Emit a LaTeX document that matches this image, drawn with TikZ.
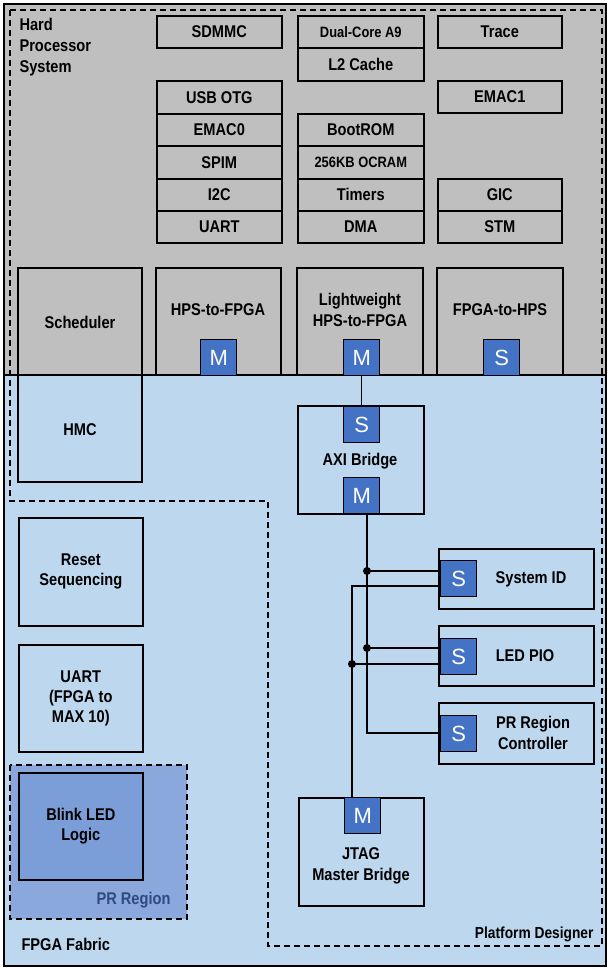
\documentclass[tikz,border=0pt]{standalone}
\usepackage{fontspec}
\setmainfont{Liberation Sans}[FakeStretch=0.86]
\newfontfamily\portfont{Liberation Sans}
\definecolor{hpsgray}{HTML}{BFBFBF}
\definecolor{fpgablue}{HTML}{BDD7EE}
\definecolor{portblue}{HTML}{4472C4}
\definecolor{prblue}{HTML}{8AA8DC}
\definecolor{blinkblue}{HTML}{7B9ED8}
\definecolor{prtext}{HTML}{2F4A80}
\begin{document}
\begin{tikzpicture}[x=1pt,y=-1pt,
  box/.style={draw=black,line width=1.6pt,anchor=north west,inner sep=0pt,align=center,font=\fontsize{17}{20}\selectfont\bfseries},
  port/.style={draw=black,line width=1.4pt,fill=portblue,text=white,minimum width=36pt,minimum height=36pt,inner sep=0pt,anchor=north west,font=\portfont\fontsize{22}{22}\selectfont},
  lbl/.style={font=\fontsize{17}{21}\selectfont\bfseries,align=left},
  wire/.style={line width=1.5pt},
  dot/.style={circle,fill=black,inner sep=0pt,minimum size=8pt}]
\useasboundingbox (0,0) rectangle (611,969);
\fill[hpsgray] (4,4) rectangle (606,375);
\fill[fpgablue] (4,375) rectangle (606,966);
\draw[line width=1.6pt] (4,375) -- (606,375);
% PR region
\fill[prblue] (10,765) rectangle (187,919);
\draw[dashed,line width=1.4pt,dash pattern=on 6pt off 4pt] (10,765) rectangle (187,919);
% main dashed polygon
\draw[line width=1.4pt,dash pattern=on 6pt off 4pt] (10,10) -- (602,10) -- (602,946) -- (268,946) -- (268,501) -- (10,501) -- cycle;
% HPS label
\node[lbl,anchor=north west] (hpslbl) at (16,15) {Hard\\Processor\\System};
% column 1
\newcommand\bx[6]{\node[box,minimum width=#3pt,minimum height=#4pt] (#5) at (#1,#2) {#6};}
\bx{156}{15}{125}{32}{sdmmc}{SDMMC}
\bx{156}{80}{125}{33}{usb}{USB OTG}
\bx{156}{113}{125}{32}{emac0}{EMAC0}
\bx{156}{145}{125}{33}{spim}{SPIM}
\bx{156}{178}{125}{32}{i2c}{I2C}
\bx{156}{210}{125}{32}{uart1}{UART}
% column 2
\bx{297}{15}{126}{32}{a9}{\fontsize{15}{18}\selectfont Dual-Core A9}
\bx{297}{47}{126}{33}{l2}{L2 Cache}
\bx{297}{113}{126}{32}{boot}{BootROM}
\bx{297}{145}{126}{33}{ocram}{\fontsize{15}{18}\selectfont 256KB OCRAM}
\bx{297}{178}{126}{32}{timers}{Timers}
\bx{297}{210}{126}{32}{dma}{DMA}
% column 3
\bx{437}{15}{124}{32}{trace}{Trace}
\bx{437}{80}{124}{32}{emac1}{EMAC1}
\bx{437}{178}{124}{32}{gic}{GIC}
\bx{437}{210}{124}{32}{stm}{STM}
% bridges
\draw[line width=1.6pt] (18,268) rectangle (142,482);
\node[lbl,align=center] (sched) at (80,322) {Scheduler};
\node[lbl,align=center] (hmc) at (80,430) {HMC};
\draw[line width=1.6pt] (156,375) |- (281,268) -- (281,375);
\node[lbl,align=center] (h2f) at (218,310) {HPS-to-FPGA};
\node[port] (h2fm) at (200,339) {M};
\draw[line width=1.6pt] (297,375) |- (423,268) -- (423,375);
\node[lbl,align=center] (lw) at (360,310) {Lightweight\\HPS-to-FPGA};
\node[port] (lwm) at (343,339) {M};
\draw[line width=1.6pt] (437,375) |- (563,268) -- (563,375);
\node[lbl,align=center] (f2h) at (500,310) {FPGA-to-HPS};
\node[port] (f2hs) at (483,339) {S};
% AXI bridge
\bx{297}{405}{126}{108}{axi}{}
\node[lbl,align=center] at (360,461) {AXI Bridge};
\node[port] (axis) at (343,406) {S};
\node[port] (axim) at (343,477) {M};
% left FPGA blocks
\bx{18}{517}{124}{108}{reset}{Reset\\Sequencing}
\bx{18}{644}{124}{107}{uart2}{UART\\(FPGA to\\MAX 10)}
\node[box,fill=blinkblue,minimum width=124pt,minimum height=107pt] (blink) at (18,772) {Blink LED\\Logic};
\node[lbl,text=prtext,anchor=east] (prlbl) at (174,900) {PR Region};
% slaves
\bx{438}{548}{155}{60}{sysid}{}
\node[lbl] at (531,579) {System ID};
\node[port] (sysids) at (440,560) {S};
\bx{438}{625}{155}{60}{led}{}
\node[lbl] at (525,656) {LED PIO};
\node[port] (leds) at (440,638) {S};
\bx{438}{702}{155}{61}{prc}{}
\node[lbl,align=center] at (533,733) {PR Region\\Controller};
\node[port] (prcs) at (440,715) {S};
% JTAG
\bx{298}{797}{125}{108}{jtag}{}
\node[port] (jtagm) at (344,797) {M};
\node[lbl,align=center] at (361,866) {JTAG\\Master Bridge};
% labels
\node[lbl,anchor=west] (fab) at (18,944) {FPGA Fabric};
\node[lbl,anchor=east,font=\fontsize{16}{20}\selectfont\bfseries] (pd) at (597,934) {Platform Designer};
% wires
\draw[wire] (lwm.south) -- (axis.north);
\draw[wire] (367,513) -- (367,733) -- (prcs.west |- 0,733);
\draw[wire] (367,571) -- (sysids.west |- 0,571);
\draw[wire] (367,648) -- (leds.west |- 0,648);
\draw[wire] (jtagm.north -| 352,0) -- (352,586) -- (sysids.west |- 0,586);
\draw[wire] (352,664) -- (leds.west |- 0,664);
\node[dot] at (367,571) {};
\node[dot] at (367,648) {};
\node[dot] at (352,664) {};
% outer frame
\draw[line width=1.8pt] (4,4) rectangle (606,966);
\end{tikzpicture}
\end{document}
